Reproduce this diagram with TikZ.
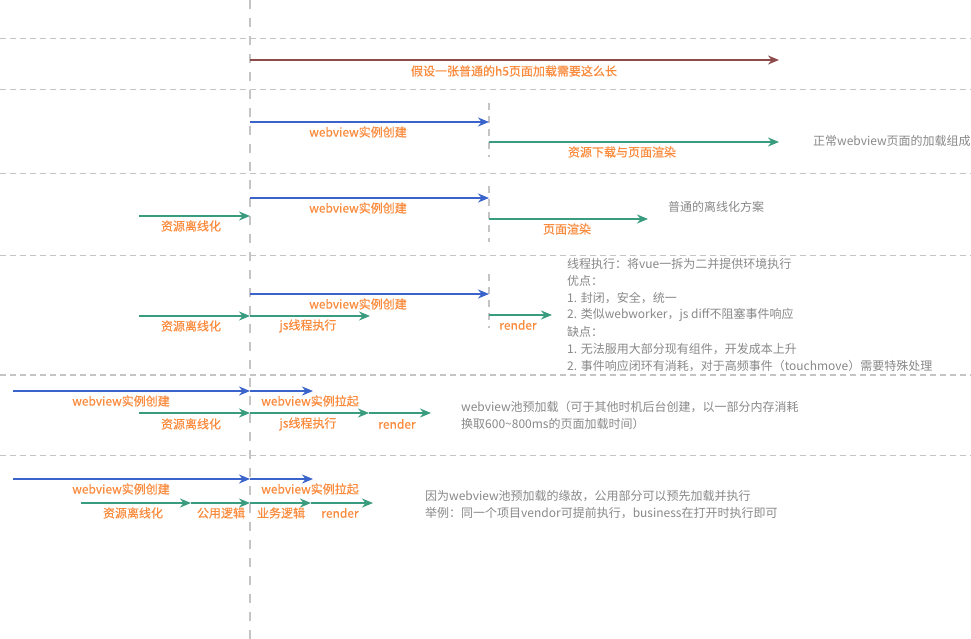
\documentclass[tikz,border=0pt]{standalone}
\usepackage{fontspec}
\setmainfont{Noto Sans CJK SC}
\newfontfamily\medfont[FakeBold=0.5]{Noto Sans CJK SC}
\usetikzlibrary{arrows.meta}
\definecolor{dashgray}{HTML}{C4C4C4}
\definecolor{brownc}{HTML}{8E4B4B}
\definecolor{bluec}{HTML}{3A63CB}
\definecolor{greenc}{HTML}{3A9C7E}
\definecolor{orangec}{HTML}{FA8A3C}
\definecolor{textgray}{HTML}{888888}
\tikzset{
  sep/.style={draw=dashgray, line width=1.9pt, dash pattern=on 6pt off 4pt},
  vsep/.style={draw=dashgray, line width=2.3pt, dash pattern=on 9pt off 9pt},
  vsep2/.style={draw=dashgray, line width=1.9pt, dash pattern=on 7pt off 6pt},
  arr/.style={line width=2.6pt, -{Stealth[length=11pt,width=9pt,inset=3.5pt]}},
  barr/.style={arr, draw=bluec, line width=2.4pt},
  garr/.style={arr, draw=greenc},
  rarr/.style={arr, draw=brownc},
  lbl/.style={text=orangec, font=\medfont\fontsize{12}{14}\selectfont, inner sep=0pt},
  note/.style={text=textgray, font=\fontsize{12}{14}\selectfont, inner sep=0pt, anchor=west},
}
\begin{document}
\begin{tikzpicture}[x=1pt,y=-1pt]
\useasboundingbox (0,0) rectangle (971,639);
% separators
\foreach \yy/\nm in {38.5/s1,89.5/s2,173.5/s3,255.5/s4,375/s5,455.5/s6}{
  \coordinate (\nm a) at (0,\yy); \coordinate (\nm b) at (971,\yy);
  \draw[sep] (\nm a) -- (\nm b);
}
\coordinate (va) at (250,0); \coordinate (vb) at (250,639);
\draw[vsep] (va) -- (vb);
\coordinate (w1a) at (489,103); \coordinate (w1b) at (489,157);
\coordinate (w2a) at (489,186); \coordinate (w2b) at (489,242);
\coordinate (w3a) at (489,274); \coordinate (w3b) at (489,328);
\draw[vsep2] (w1a) -- (w1b);
\draw[vsep2] (w2a) -- (w2b);
\draw[vsep2] (w3a) -- (w3b);

% Row 1
\coordinate (r1a) at (250,60); \coordinate (r1b) at (779,60);
\draw[rarr] (r1a) -- (r1b);
\node[lbl] (l1) at (514,71) {假设一张普通的h5页面加载需要这么长};

% Row 2
\coordinate (r2a) at (250,122); \coordinate (r2b) at (489,122);
\coordinate (r2c) at (489,142); \coordinate (r2d) at (779,142);
\draw[barr] (r2a) -- (r2b);
\draw[garr] (r2c) -- (r2d);
\node[lbl] (l2a) at (358,132) {webview实例创建};
\node[lbl] (l2b) at (622,152) {资源下载与页面渲染};
\node[note] (n2) at (813,141) {正常webview页面的加载组成};

% Row 3
\coordinate (r3a) at (250,198); \coordinate (r3b) at (489,198);
\coordinate (r3c) at (139,216); \coordinate (r3d) at (250,216);
\coordinate (r3e) at (489,219); \coordinate (r3f) at (648,219);
\draw[barr] (r3a) -- (r3b);
\draw[garr] (r3c) -- (r3d);
\draw[garr] (r3e) -- (r3f);
\node[lbl] (l3a) at (358,208) {webview实例创建};
\node[lbl] (l3b) at (191,226) {资源离线化};
\node[lbl] (l3c) at (567,229) {页面渲染};
\node[note] (n3) at (668,207) {普通的离线化方案};

% Row 4
\coordinate (r4a) at (250,294); \coordinate (r4b) at (489,294);
\coordinate (r4c) at (139,316); \coordinate (r4d) at (250,316);
\coordinate (r4e) at (370,316);
\coordinate (r4f) at (489,315); \coordinate (r4g) at (552,315);
\draw[barr] (r4a) -- (r4b);
\draw[garr] (r4c) -- (r4d);
\draw[garr] (r4d) -- (r4e);
\draw[garr] (r4f) -- (r4g);
\node[lbl] (l4a) at (358,304) {webview实例创建};
\node[lbl] (l4b) at (191,326) {资源离线化};
\node[lbl] (l4c) at (308,326) {js线程执行};
\node[lbl] (l4d) at (518,325) {render};
\node[note] (g1) at (567,264) {线程执行：将vue一拆为二并提供环境执行};
\node[note] (g2) at (567,281) {优点：};
\node[note] (g3) at (567,298) {1. 封闭，安全，统一};
\node[note] (g4) at (567,315) {2. 类似webworker，js diff不阻塞事件响应};
\node[note] (g5) at (567,332) {缺点：};
\node[note] (g6) at (567,349) {1. 无法服用大部分现有组件，开发成本上升};
\node[note] (g7) at (567,366) {2. 事件响应闭环有消耗，对于高频事件（touchmove）需要特殊处理};

% Row 5
\coordinate (r5a) at (13,391); \coordinate (r5b) at (250,391); \coordinate (r5c) at (313,391);
\coordinate (r5d) at (139,413); \coordinate (r5e) at (250,413);
\coordinate (r5f) at (369,413); \coordinate (r5g) at (431,413);
\draw[barr] (r5a) -- (r5b);
\draw[barr] (r5b) -- (r5c);
\draw[garr] (r5d) -- (r5e);
\draw[garr] (r5e) -- (r5f);
\draw[garr] (r5f) -- (r5g);
\node[lbl] (l5a) at (121,401) {webview实例创建};
\node[lbl] (l5b) at (310,401) {webview实例拉起};
\node[lbl] (l5c) at (191,424) {资源离线化};
\node[lbl] (l5d) at (308,424) {js线程执行};
\node[lbl] (l5e) at (397,424) {render};
\node[note] (n5a) at (461,407) {webview池预加载（可于其他时机后台创建，以一部分内存消耗};
\node[note] (n5b) at (461,424) {换取600\textasciitilde800ms的页面加载时间）};

% Row 6
\coordinate (r6a) at (13,479); \coordinate (r6b) at (250,479); \coordinate (r6c) at (313,479);
\coordinate (r6d) at (81,503); \coordinate (r6e) at (191,503);
\coordinate (r6f) at (250,503); \coordinate (r6g) at (311,503); \coordinate (r6h) at (373,503);
\draw[barr] (r6a) -- (r6b);
\draw[barr] (r6b) -- (r6c);
\draw[garr] (r6d) -- (r6e);
\draw[garr] (r6e) -- (r6f);
\draw[garr] (r6f) -- (r6g);
\draw[garr] (r6g) -- (r6h);
\node[lbl] (l6a) at (121,489) {webview实例创建};
\node[lbl] (l6b) at (310,489) {webview实例拉起};
\node[lbl] (l6c) at (133,513) {资源离线化};
\node[lbl] (l6d) at (221,513) {公用逻辑};
\node[lbl] (l6e) at (281,513) {业务逻辑};
\node[lbl] (l6f) at (340,513) {render};
\node[note] (n6a) at (425,496) {因为webview池预加载的缘故，公用部分可以预先加载并执行};
\node[note] (n6b) at (425,513) {举例：同一个项目vendor可提前执行，business在打开时执行即可};
\end{tikzpicture}
\end{document}
